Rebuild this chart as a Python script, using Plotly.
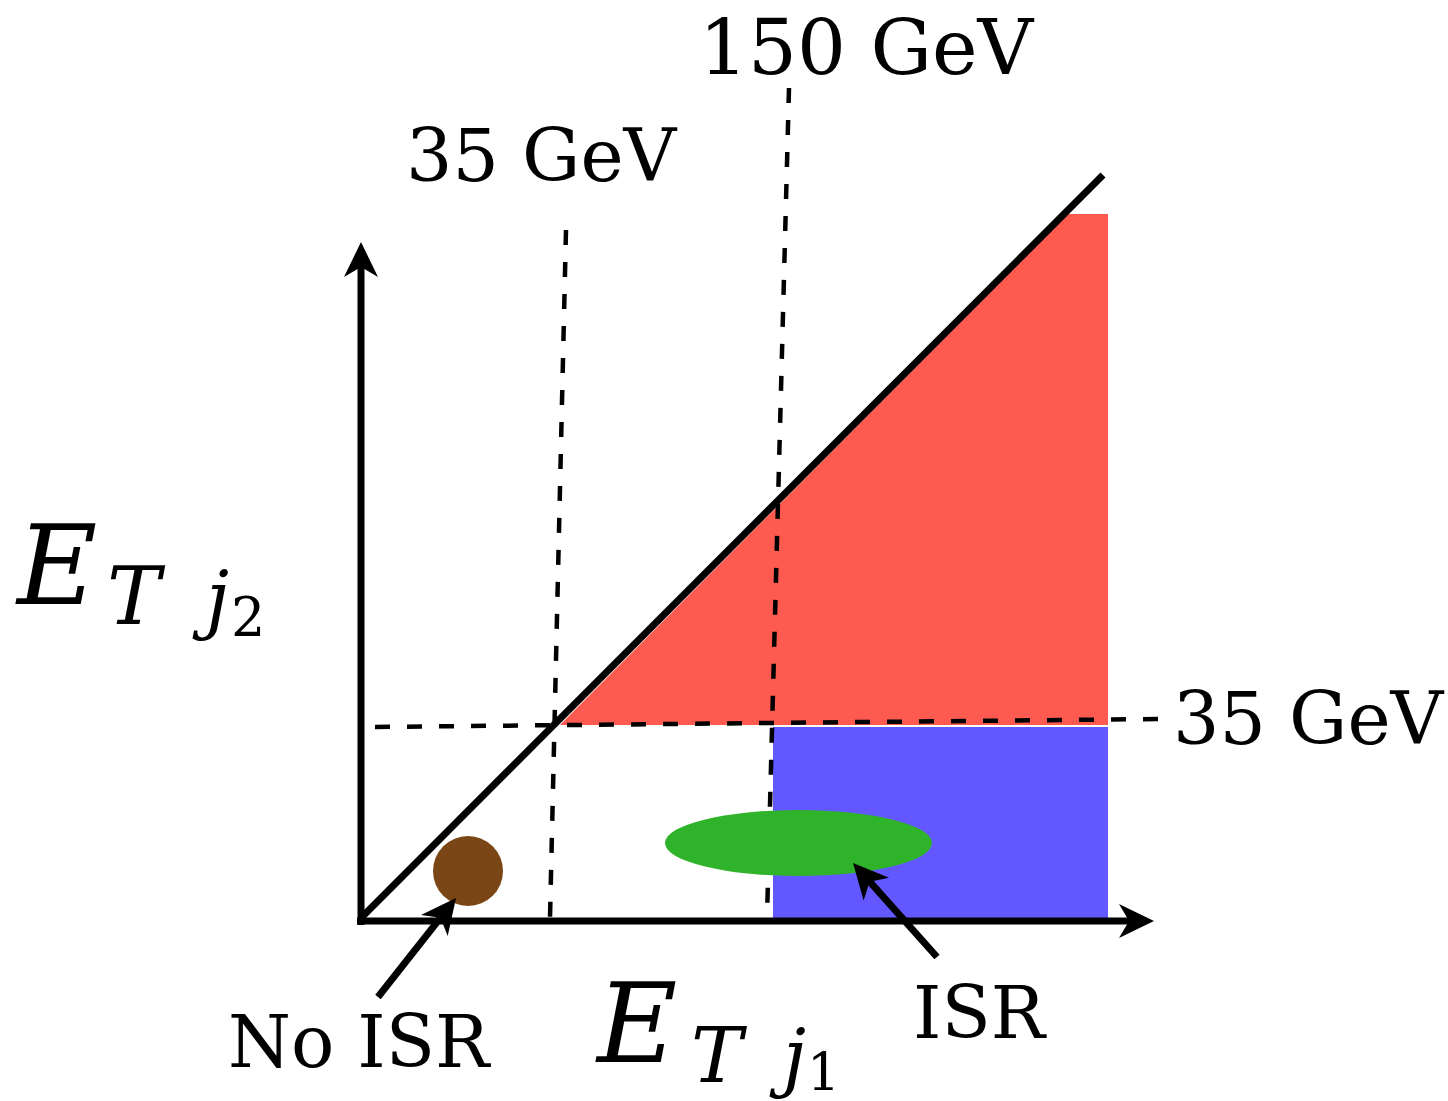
import plotly.graph_objects as go

W, H = 1448, 1101

# ---- diagram geometry (pixel-space canvas) ----
origin = [361, 921]
x_axis_end = [1154, 921]
y_axis_end = [361, 242]
diag_line = [[361, 918], [1103, 175]]

cut_35_x = [[566, 230], [550, 918]]      # vertical dashed 35 GeV (x), drawn top -> bottom
cut_150_x = [[789, 88], [767, 918]]      # vertical dashed 150 GeV, drawn top -> bottom
cut_35_y = [[375, 727], [1162, 719]]     # horizontal dashed 35 GeV (y)

red_region_x = [560, 1108, 1108, 1068]
red_region_y = [725, 725, 214, 214]
blue_region_x = [773, 1108]
blue_region_y = [727, 918]

isr_blob = [798.5, 843, 133.5, 33]       # cx, cy, rx, ry
noisr_blob = [468, 871, 35, 35]

arrow_noisr = [[378, 997], [456, 898]]   # tail, tip
arrow_isr = [[937, 957], [853, 863]]

labels_text = ["150 GeV", "35 GeV", "35 GeV", "No ISR", "ISR"]
labels_x = [867, 542, 1309, 359, 980]
labels_y = [47, 155, 718, 1042, 1013]
labels_size = [77, 73, 73, 72, 72]

math_text = ["<i>E</i>", "<i>T</i>", "<i>j</i>", "2",
             "<i>E</i>", "<i>T</i>", "<i>j</i>", "1"]
math_x = [56, 136, 210, 248, 636, 719, 787, 823]
math_y = [566, 596, 598, 617, 1024, 1055, 1056, 1072]
math_size = [110, 80, 74, 54, 110, 77, 74, 52]

FONT = "DejaVu Serif"

RED = "#FF5A50"
BLUE = "#6358FF"
GREEN = "#2FB32A"
BROWN = "#7B4615"

def arrowhead(tail, tip, length=35, half=17, notch=25):
    dx, dy = tip[0] - tail[0], tip[1] - tail[1]
    n = (dx * dx + dy * dy) ** 0.5
    ux, uy = dx / n, dy / n
    px, py = -uy, ux
    bx, by = tip[0] - length * ux, tip[1] - length * uy
    nx, ny = tip[0] - notch * ux, tip[1] - notch * uy
    w1 = (bx + half * px, by + half * py)
    w2 = (bx - half * px, by - half * py)
    path = (f"M {tip[0]},{tip[1]} L {w1[0]},{w1[1]} L {nx},{ny} "
            f"L {w2[0]},{w2[1]} Z")
    return path, (nx + 2 * ux, ny + 2 * uy)

shapes = []
# filled regions
shapes.append(dict(type="path",
                   path="M " + " L ".join(f"{x},{y}" for x, y in zip(red_region_x, red_region_y)) + " Z",
                   fillcolor=RED, line=dict(width=0), layer="below"))
shapes.append(dict(type="rect", x0=blue_region_x[0], x1=blue_region_x[1],
                   y0=blue_region_y[0], y1=blue_region_y[1],
                   fillcolor=BLUE, line=dict(width=0), layer="below"))

# dashed cut lines
for seg in (cut_35_x, cut_150_x, cut_35_y):
    shapes.append(dict(type="line", x0=seg[0][0], y0=seg[0][1], x1=seg[1][0], y1=seg[1][1],
                       line=dict(color="black", width=4.5, dash="15px,17px")))

# blobs
cx, cy, rx, ry = isr_blob
shapes.append(dict(type="circle", x0=cx - rx, x1=cx + rx, y0=cy - ry, y1=cy + ry,
                   fillcolor=GREEN, line=dict(width=0)))
cx, cy, rx, ry = noisr_blob
shapes.append(dict(type="circle", x0=cx - rx, x1=cx + rx, y0=cy - ry, y1=cy + ry,
                   fillcolor=BROWN, line=dict(width=0)))

# diagonal
shapes.append(dict(type="line", x0=diag_line[0][0], y0=diag_line[0][1],
                   x1=diag_line[1][0], y1=diag_line[1][1],
                   line=dict(color="black", width=7)))

# axes with arrowheads
for tail, tip in ((origin, x_axis_end), (origin, y_axis_end), arrow_noisr, arrow_isr):
    path, stop = arrowhead(tail, tip)
    t0 = list(tail)
    if tip is x_axis_end:
        t0 = [origin[0] - 4, origin[1]]
    if tip is y_axis_end:
        t0 = [origin[0], origin[1] + 4]
    shapes.append(dict(type="line", x0=t0[0], y0=t0[1], x1=stop[0], y1=stop[1],
                       line=dict(color="black", width=7)))
    shapes.append(dict(type="path", path=path, fillcolor="black", line=dict(width=0)))

annotations = []
for t, x, y, s in zip(labels_text, labels_x, labels_y, labels_size):
    annotations.append(dict(text=t, x=x, y=y, xref="x", yref="y", showarrow=False,
                            xanchor="center", yanchor="middle", borderpad=0,
                            font=dict(family=FONT, size=s, color="black")))
for t, x, y, s in zip(math_text, math_x, math_y, math_size):
    annotations.append(dict(text=t, x=x, y=y, xref="x", yref="y", showarrow=False,
                            xanchor="center", yanchor="middle", borderpad=0,
                            font=dict(family=FONT, size=s, color="black")))

fig = go.Figure(go.Scatter(x=[], y=[]))
fig.update_layout(
    width=W, height=H, autosize=False,
    margin=dict(l=0, r=0, t=0, b=0),
    paper_bgcolor="white", plot_bgcolor="white",
    xaxis=dict(range=[0, W], visible=False, fixedrange=True),
    yaxis=dict(range=[H, 0], visible=False, fixedrange=True),
    shapes=shapes, annotations=annotations, showlegend=False,
)
fig.write_html("out.html", config={"displayModeBar": False})
